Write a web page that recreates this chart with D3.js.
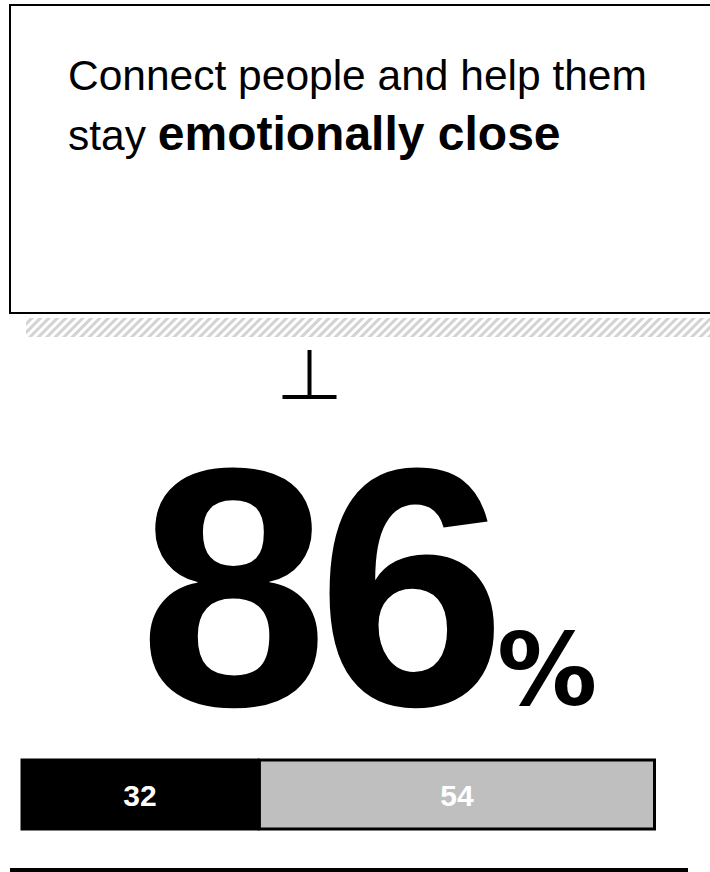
<!DOCTYPE html>
<html>
<head>
<meta charset="utf-8">
<script src="https://cdn.jsdelivr.net/npm/d3@7"></script>
<style>
  html, body { margin: 0; padding: 0; background: #fff; }
  svg { display: block; }
</style>
</head>
<body>
<div id="chart"></div>
<script>
// data
const headline = ["Connect people and help them", "stay ", "emotionally close"];
const segmentNames = ["part1", "part2"];
const segmentValues = [32, 54];
const segmentColors = ["#000000", "#bfbfbf"];
const totalValue = 86;
const markerValue = 39;

const width = 710, height = 872;

const svg = d3.select("#chart")
    .append("svg")
    .attr("width", width)
    .attr("height", height);

// hatch pattern for the band under the box
const defs = svg.append("defs");
const pat = defs.append("pattern")
    .attr("id", "hatch")
    .attr("patternUnits", "userSpaceOnUse")
    .attr("width", 6)
    .attr("height", 6)
    .attr("patternTransform", "rotate(-45)");
pat.append("rect").attr("width", 6).attr("height", 6).attr("fill", "#fff");
pat.append("rect").attr("width", 6).attr("height", 3).attr("fill", "#d3d3d3");

// header box
svg.append("rect")
    .attr("x", 10)
    .attr("y", 5)
    .attr("width", 720)
    .attr("height", 308)
    .attr("fill", "#fff")
    .attr("stroke", "#000")
    .attr("stroke-width", 2);

svg.append("rect")
    .attr("x", 26)
    .attr("y", 318)
    .attr("width", width - 26)
    .attr("height", 19)
    .attr("fill", "url(#hatch)");

const title = svg.append("text")
    .attr("x", 68)
    .attr("y", 90)
    .style("font-family", "'Liberation Sans', Arial, sans-serif")
    .style("font-size", "42.5px")
    .attr("fill", "#000");
title.append("tspan").text(headline[0]);
title.append("tspan").attr("x", 68).attr("dy", 60).text(headline[1]);
title.append("tspan")
    .style("font-weight", "bold")
    .style("font-size", "48px")
    .text(headline[2]);

// scale shared by bar and marker
const x = d3.scaleLinear()
    .domain([0, d3.sum(segmentValues)])
    .range([22, 656]);

// marker
const mx = x(markerValue);
svg.append("line")
    .attr("x1", mx).attr("x2", mx)
    .attr("y1", 350).attr("y2", 397)
    .attr("stroke", "#000").attr("stroke-width", 4);
svg.append("line")
    .attr("x1", mx - 27).attr("x2", mx + 27)
    .attr("y1", 397).attr("y2", 397)
    .attr("stroke", "#000").attr("stroke-width", 4);

// big number
svg.append("text")
    .attr("x", 139)
    .attr("y", 705)
    .attr("fill", "#000")
    .style("font-family", "'Liberation Sans', Arial, sans-serif")
    .style("font-weight", "bold")
    .style("font-size", "340px")
    .style("letter-spacing", "-11px")
    .text(totalValue);
svg.append("text")
    .attr("x", 497)
    .attr("y", 705)
    .attr("fill", "#000")
    .style("font-family", "'DejaVu Sans', sans-serif")
    .style("font-weight", "bold")
    .style("font-size", "100px")
    .text("%");

// stacked bar
let acc = 0;
const segs = segmentValues.map((v, i) => {
    const s = { name: segmentNames[i], value: v, x0: acc, x1: acc + v, color: segmentColors[i] };
    acc += v;
    return s;
});

const barY = 760, barH = 69;

svg.selectAll(".seg")
    .data(segs)
    .enter()
    .append("rect")
    .attr("class", "seg")
    .attr("x", d => x(d.x0) + (d.color === "#000000" ? 0 : 1.5))
    .attr("y", barY)
    .attr("width", d => x(d.x1) - x(d.x0) - (d.color === "#000000" ? 0 : 3))
    .attr("height", barH)
    .attr("fill", d => d.color)
    .attr("stroke", "#000")
    .attr("stroke-width", 3);

svg.selectAll(".seglabel")
    .data(segs)
    .enter()
    .append("text")
    .attr("class", "seglabel")
    .attr("x", d => (x(d.x0) + x(d.x1)) / 2)
    .attr("y", barY + barH / 2 + 11)
    .attr("text-anchor", "middle")
    .style("font-family", "'Liberation Sans', Arial, sans-serif")
    .style("font-weight", "bold")
    .style("font-size", "30px")
    .attr("fill", "#fff")
    .text(d => d.value);

// bottom rule
svg.append("rect")
    .attr("x", 10)
    .attr("y", 868)
    .attr("width", 678)
    .attr("height", 6)
    .attr("fill", "#000");
</script>
</body>
</html>
